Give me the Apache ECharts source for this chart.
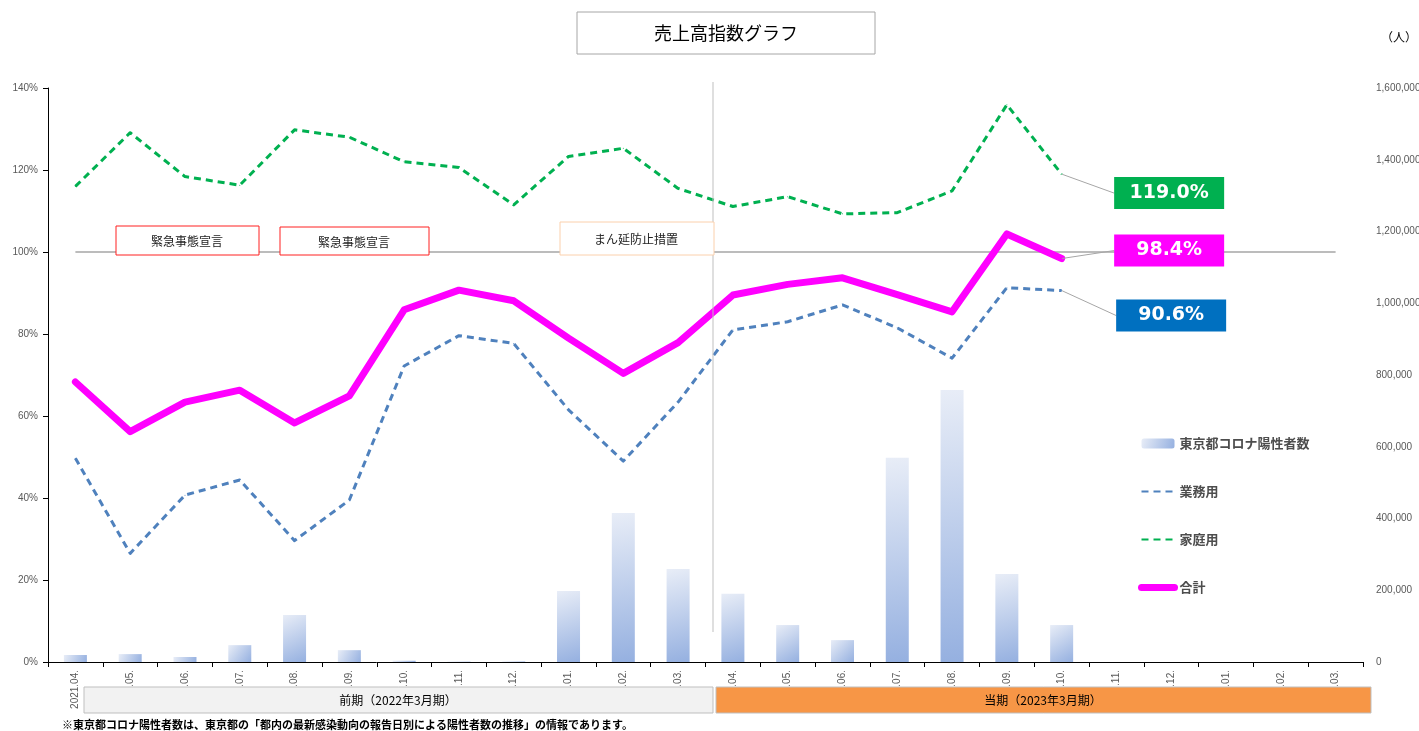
<!DOCTYPE html>
<html><head><meta charset="utf-8">
<script src="https://cdn.jsdelivr.net/npm/echarts@6/dist/echarts.min.js"></script>
<style>html,body{margin:0;padding:0;background:#fff}#c{width:1419px;height:731px}</style>
</head><body><div id="c"></div>
<script>
const categories = ['2021.04','2021.05','2021.06','2021.07','2021.08','2021.09','2021.10','2021.11','2021.12','2022.01','2022.02','2022.03',
  '2022.04','2022.05','2022.06','2022.07','2022.08','2022.09','2022.10','2022.11','2022.12','2023.01','2023.02','2023.03'];
const tickLabels = ['2021.04.','.05.','.06.','.07.','.08.','.09.','.10.','.11.','.12.','.01.','.02.','.03.',
  '.04.','.05.','.06.','.07.','.08.','.09.','.10.','.11.','.12.','.01.','.02.','.03.'];
const covidCases = [19500,22000,14000,47000,131000,33000,3500,1000,1500,198000,415000,259000,190000,103000,61000,569000,758000,245000,103000];
const gyomuyo = [49.7,26.5,40.7,44.4,29.6,39.5,72.2,79.6,77.7,61.5,49.0,63.4,81.0,83.0,87.1,81.5,74.1,91.3,90.6];
const kateiyo = [116.0,129.1,118.4,116.3,129.8,128.0,122.0,120.6,111.5,123.3,125.3,115.5,111.1,113.5,109.3,109.6,114.9,135.9,119.0];
const gokei = [68.3,56.2,63.4,66.3,58.3,64.9,85.9,90.7,88.1,79.0,70.4,77.9,89.5,92.1,93.7,89.6,85.4,104.4,98.4];
const leftTicks = [0,20,40,60,80,100,120,140];
const rightTicks = [0,200000,400000,600000,800000,1000000,1200000,1400000,1600000];
const seriesNames = ['東京都コロナ陽性者数','業務用','家庭用','合計'];
const periodLabels = ['前期（2022年3月期）','当期（2023年3月期）'];
const eventLabels = ['緊急事態宣言','緊急事態宣言','まん延防止措置'];
const titleText = '売上高指数グラフ';
const unitText = '（人）';
const footnote = '※東京都コロナ陽性者数は、東京都の「都内の最新感染動向の報告日別による陽性者数の推移」の情報であります。';

const JP = '"Noto Sans CJK JP", sans-serif';
const chart = echarts.init(document.getElementById('c'));

function lastLabel(arr, bg) {
  const last = arr.length - 1;
  return arr.map((v, i) => i === last ? {
    value: v,
    label: {
      show: true, position: 'right', distance: 5,
      formatter: p => p.value.toFixed(1) + '%',
      backgroundColor: bg, color: '#fff', fontSize: 19, fontWeight: 'bold',
      fontFamily: '"DejaVu Sans", sans-serif',
      width: 110, height: 32, lineHeight: 32, align: 'center', verticalAlign: 'middle'
    }
  } : v);
}

const lineCommon = { symbol: 'circle', symbolSize: 1, showSymbol: true, showAllSymbol: true };

const option = {
  animation: false,
  textStyle: { fontFamily: '"Liberation Sans", sans-serif' },
  grid: { left: 48, right: 56, top: 88, bottom: 69, containLabel: false, outerBoundsMode: 'none' },
  legend: {
    orient: 'vertical', left: 1133, top: 432, itemWidth: 33, itemHeight: 10, itemGap: 35,
    data: [
      { name: seriesNames[0] },
      { name: seriesNames[1], itemStyle: { opacity: 0 } },
      { name: seriesNames[2], itemStyle: { opacity: 0 } },
      { name: seriesNames[3], itemStyle: { opacity: 0 }, lineStyle: { width: 7 } }
    ],
    textStyle: { fontFamily: JP, fontSize: 13, fontWeight: 'bold', color: '#4d4d4d' }
  },
  xAxis: {
    type: 'category', data: categories, boundaryGap: true,
    axisLine: { lineStyle: { color: '#000', width: 1 } },
    axisTick: { show: true, lineStyle: { color: '#000' }, length: 5 },
    axisLabel: { rotate: 90, fontSize: 10, color: '#595959', margin: 8, formatter: (v, i) => tickLabels[i] }
  },
  yAxis: [
    { type: 'value', min: leftTicks[0], max: leftTicks[leftTicks.length-1], interval: 20,
      axisLine: { show: true, lineStyle: { color: '#000' } },
      axisTick: { show: true, lineStyle: { color: '#000' }, length: 5 },
      splitLine: { show: false },
      axisLabel: { formatter: '{value}%', fontSize: 10, color: '#595959', margin: 10 } },
    { type: 'value', min: rightTicks[0], max: rightTicks[rightTicks.length-1], interval: 200000,
      axisLine: { show: false }, axisTick: { show: false }, splitLine: { show: false },
      axisLabel: { formatter: v => v.toLocaleString('en-US'), fontSize: 10, color: '#595959', margin: 13 } }
  ],
  series: [
    { name: seriesNames[0], type: 'bar', yAxisIndex: 1, data: covidCases, barWidth: 23, z: 1,
      itemStyle: { color: new echarts.graphic.LinearGradient(0, 0, 1, 1, [
        { offset: 0, color: '#e8edf7' }, { offset: 1, color: '#95b0e0' }]) } },
    Object.assign({ name: seriesNames[1], type: 'line', yAxisIndex: 0, data: lastLabel(gyomuyo, '#0070c0'), z: 3,
      lineStyle: { color: '#4f81bd', width: 3, type: [7, 5], join: 'round' }, itemStyle: { color: '#4f81bd' },
      labelLayout: { dx: 104, dy: 25 },
      labelLine: { show: true, lineStyle: { color: '#a6a6a6', width: 1 } } }, lineCommon),
    Object.assign({ name: seriesNames[2], type: 'line', yAxisIndex: 0, data: lastLabel(kateiyo, '#00b050'), z: 3,
      lineStyle: { color: '#00b050', width: 3, type: [7, 5], join: 'round' }, itemStyle: { color: '#00b050' },
      labelLayout: { dx: 102, dy: 19 },
      labelLine: { show: true, lineStyle: { color: '#a6a6a6', width: 1 } } }, lineCommon),
    Object.assign({ name: seriesNames[3], type: 'line', yAxisIndex: 0, data: lastLabel(gokei, '#ff00ff'), z: 4,
      lineStyle: { color: '#ff00ff', width: 7, join: 'round', cap: 'round' }, itemStyle: { color: '#ff00ff' },
      labelLayout: { dx: 102, dy: -8 },
      labelLine: { show: true, lineStyle: { color: '#a6a6a6', width: 1 } },
      markLine: { silent: true, symbol: 'none', z: 2, label: { show: false },
        lineStyle: { color: '#a6a6a6', width: 1.5, type: 'solid' },
        data: [[{ coord: [categories[0], 100] }, { coord: [categories[categories.length-1], 100] }]] } }, lineCommon)
  ],
  graphic: [
    { type: 'rect', shape: { x: 577, y: 12, width: 298, height: 42 }, style: { fill: '#fff', stroke: '#a6a6a6', lineWidth: 1 }, z: 100 },
    { type: 'text', x: 726, y: 33, style: { text: titleText, fontFamily: JP, fontSize: 18, fill: '#000', align: 'center', verticalAlign: 'middle' }, z: 101 },
    { type: 'text', x: 1417, y: 37, style: { text: unitText, fontFamily: JP, fontSize: 12, fill: '#000', align: 'right', verticalAlign: 'middle' }, z: 101 },
    { type: 'line', shape: { x1: 713, y1: 82, x2: 713, y2: 632 }, style: { stroke: '#bfbfbf', lineWidth: 1 }, z: 5 },
    { type: 'rect', shape: { x: 116, y: 226, width: 143, height: 29 }, style: { fill: '#fff', stroke: '#ff2020', lineWidth: 1 }, z: 100 },
    { type: 'text', x: 187, y: 241, style: { text: eventLabels[0], fontFamily: JP, fontSize: 12, fill: '#222', align: 'center', verticalAlign: 'middle' }, z: 101 },
    { type: 'rect', shape: { x: 280, y: 227, width: 149, height: 28 }, style: { fill: '#fff', stroke: '#ff2020', lineWidth: 1 }, z: 100 },
    { type: 'text', x: 354, y: 242, style: { text: eventLabels[1], fontFamily: JP, fontSize: 12, fill: '#222', align: 'center', verticalAlign: 'middle' }, z: 101 },
    { type: 'rect', shape: { x: 560, y: 222, width: 154, height: 33 }, style: { fill: '#fff', stroke: '#fbd0ac', lineWidth: 1 }, z: 100 },
    { type: 'text', x: 636, y: 239, style: { text: eventLabels[2], fontFamily: JP, fontSize: 12, fill: '#222', align: 'center', verticalAlign: 'middle' }, z: 101 },
    { type: 'rect', shape: { x: 84, y: 687, width: 629, height: 26 }, style: { fill: '#f2f2f2', stroke: '#bfbfbf', lineWidth: 1 }, z: 100 },
    { type: 'text', x: 398, y: 700, style: { text: periodLabels[0], fontFamily: JP, fontSize: 12, fill: '#000', align: 'center', verticalAlign: 'middle' }, z: 101 },
    { type: 'rect', shape: { x: 716, y: 687, width: 655, height: 26 }, style: { fill: '#f79646', stroke: '#bfbfbf', lineWidth: 1 }, z: 100 },
    { type: 'text', x: 1043, y: 700, style: { text: periodLabels[1], fontFamily: JP, fontSize: 12, fill: '#000', align: 'center', verticalAlign: 'middle' }, z: 101 },
    { type: 'text', x: 62, y: 725, style: { text: footnote, fontFamily: JP, fontSize: 11, fontWeight: 'bold', fill: '#000', align: 'left', verticalAlign: 'middle' }, z: 101 }
  ]
};
chart.setOption(option);
</script>
</body></html>
